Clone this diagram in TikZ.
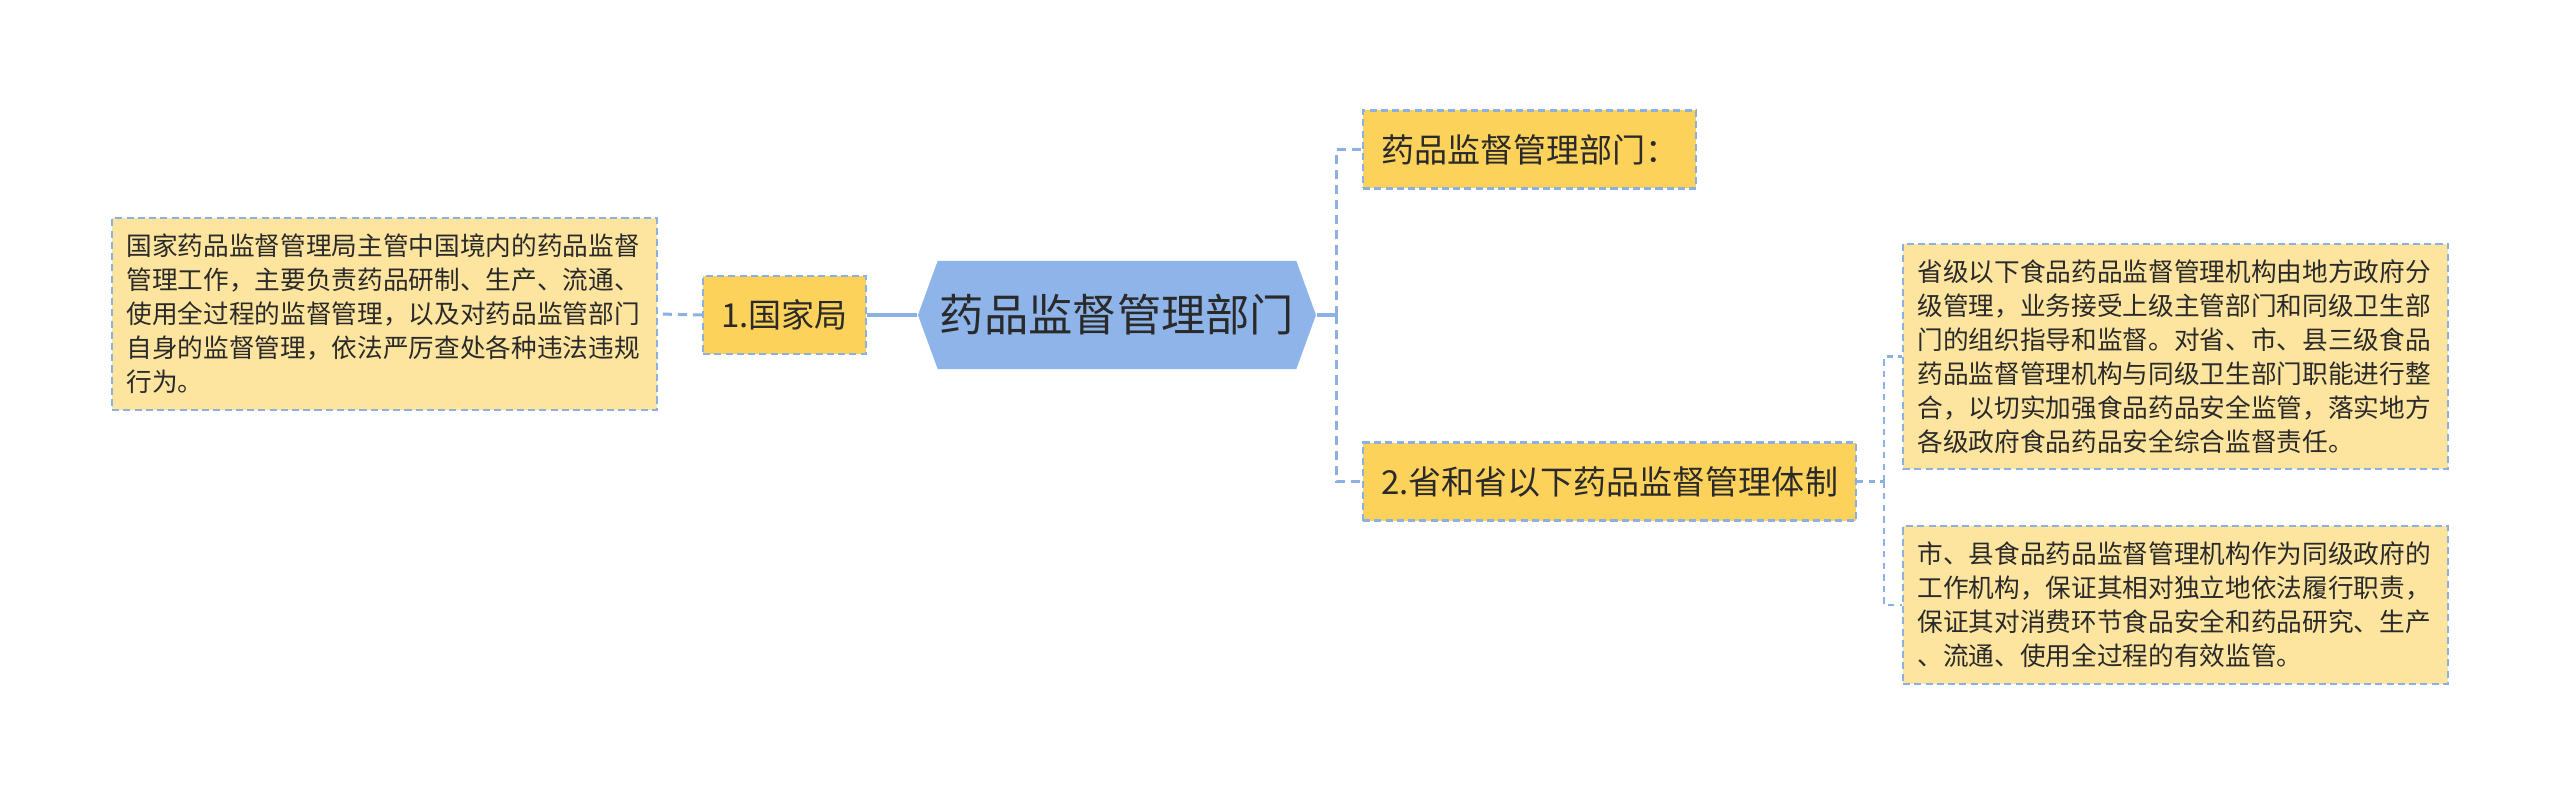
\documentclass[tikz,border=0pt]{standalone}
\usepackage{fontspec}
\setmainfont{Noto Sans CJK SC}
\usepackage{tikz}
\usetikzlibrary{shapes.symbols,calc}
\definecolor{hubblue}{HTML}{8EB4EA}
\definecolor{linkblue}{HTML}{8DB0E3}
\definecolor{branchgold}{HTML}{FDD25A}
\definecolor{leafcream}{HTML}{FDE5A0}
\definecolor{inkgray}{HTML}{2A2A2A}

\begin{document}
\begin{tikzpicture}[
        hub/.style={signal, signal to=west and east, signal pointer angle=140, fill=hubblue, text=inkgray, minimum width=3.98cm, minimum height=1.08cm, inner sep=0pt, font=\fontsize{12.6pt}{14pt}\selectfont},
        branch/.style={draw=linkblue, dash pattern=on 2pt off 1.2pt, line width=0.6pt, fill=branchgold, text=inkgray, minimum height=0.78cm, inner xsep=0.18cm, inner ysep=0pt, font=\fontsize{9.4pt}{11pt}\selectfont},
        leaf/.style={draw=linkblue, dash pattern=on 2pt off 1.2pt, line width=0.6pt, fill=leafcream, text=inkgray, text width=5.16cm, align=left, inner xsep=0.145cm, inner ysep=0.155cm, font=\fontsize{7.3pt}{9.7pt}\selectfont},
        trunk/.style={draw=linkblue, line width=0.9pt},
        twig/.style={draw=linkblue, line width=0.85pt, dash pattern=on 2.6pt off 1.7pt},
        thintwig/.style={draw=linkblue, line width=0.6pt, dash pattern=on 1.8pt off 1.5pt}
    ]
    \useasboundingbox (0,0) rectangle (25.6,-7.97);

    % === Centre ===
    \node[hub] (hub) at (11.17,-3.15) {药品监督管理部门};

    % === Left side ===
    \node[branch] (gj) at (7.845,-3.15) {1.国家局};
    \node[leaf, anchor=west] (leafL) at (1.11,-3.14) {国家药品监督管理局主管中国境内的药品监督\\管理工作，主要负责药品研制、生产、流通、\\使用全过程的监督管理，以及对药品监管部门\\自身的监督管理，依法严厉查处各种违法违规\\行为。};

    % === Right side ===
    \node[branch, anchor=west] (b1) at (13.62,-1.495) {药品监督管理部门：};
    \node[branch, anchor=west] (b2) at (13.62,-4.815) {2.省和省以下药品监督管理体制};
    \node[leaf, anchor=west] (leaf3) at (19.02,-3.565) {省级以下食品药品监督管理机构由地方政府分\\级管理，业务接受上级主管部门和同级卫生部\\门的组织指导和监督。对省、市、县三级食品\\药品监督管理机构与同级卫生部门职能进行整\\合，以切实加强食品药品安全监管，落实地方\\各级政府食品药品安全综合监督责任。};
    \node[leaf, anchor=west] (leaf4) at (19.02,-6.05) {市、县食品药品监督管理机构作为同级政府的\\工作机构，保证其相对独立地依法履行职责，\\保证其对消费环节食品安全和药品研究、生产\\、流通、使用全过程的有效监管。};

    % Connectors
    \coordinate (jr) at (13.36,-3.15);
    \coordinate (jb) at (18.84,-4.815);
    \draw[trunk] (hub.west) -- (gj.east);
    \draw[twig] (gj.west) -- (leafL.east);
    \draw[trunk] (hub.east) -- (jr);
    \draw[twig] (jr) |- (b1.west);
    \draw[twig] (jr) |- (b2.west);
    \draw[thintwig] (b2.east) -- (jb);
    \draw[thintwig] (jb) |- (leaf3.west);
    \draw[thintwig] (jb) |- (leaf4.west);

\end{tikzpicture}
\end{document}
